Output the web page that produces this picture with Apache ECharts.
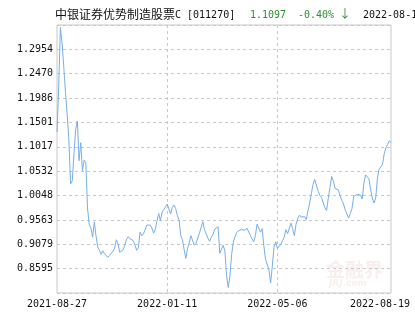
<!DOCTYPE html>
<html>
<head>
<meta charset="utf-8">
<script src="https://cdn.jsdelivr.net/npm/echarts@6/dist/echarts.min.js"></script>
<style>
  html, body { margin: 0; padding: 0; background: #fff; }
  #chart { width: 415px; height: 330px; }
</style>
</head>
<body>
<div id="chart"></div>
<script>
// fund nav, one point per sample
var navs = [
  1.131, 1.22, 1.339, 1.307, 1.26, 1.21, 1.166, 1.115, 1.028, 1.034,
  1.087, 1.136, 1.153, 1.074, 1.110, 1.054, 1.075, 1.070, 0.98, 0.947,
  0.940, 0.922, 0.952, 0.925, 0.903, 0.896, 0.888, 0.895, 0.889, 0.889,
  0.882, 0.886, 0.884, 0.894, 0.900, 0.917, 0.909, 0.892, 0.889, 0.897,
  0.906, 0.918, 0.923, 0.919, 0.917, 0.915, 0.906, 0.896, 0.902, 0.932,
  0.925, 0.929, 0.937, 0.946, 0.943, 0.946, 0.940, 0.930, 0.938, 0.955,
  0.969, 0.955, 0.972, 0.977, 0.975, 0.988, 0.985, 0.968, 0.981, 0.986,
  0.979, 0.965, 0.956, 0.925, 0.917, 0.897, 0.880, 0.900, 0.911, 0.925,
  0.925, 0.906, 0.910, 0.907, 0.930, 0.933, 0.953, 0.937, 0.936, 0.920,
  0.914, 0.922, 0.927, 0.938, 0.940, 0.943, 0.890, 0.892, 0.906, 0.895,
  0.846, 0.822, 0.845, 0.888, 0.912, 0.923, 0.931, 0.935, 0.934, 0.937,
  0.937, 0.936, 0.940, 0.940, 0.926, 0.919, 0.913, 0.925, 0.948, 0.950,
  0.932, 0.939, 0.905, 0.878, 0.880, 0.857, 0.831, 0.865, 0.902, 0.913,
  0.900, 0.900, 0.908, 0.915, 0.922, 0.937, 0.929, 0.929, 0.950, 0.939,
  0.925, 0.948, 0.959, 0.966, 0.962, 0.960, 0.963, 0.957, 0.974, 0.990,
  1.008, 1.027, 1.037, 1.037, 1.014, 1.005, 1.001, 0.991, 0.981, 0.975,
  0.999, 1.021, 1.043, 1.033, 1.019, 1.019, 1.016, 1.004, 0.995, 0.988,
  0.976, 0.968, 0.960, 0.969, 0.979, 1.003, 1.004, 1.007, 1.010, 1.006,
  0.998, 1.029, 1.046, 1.045, 1.038, 1.016, 1.000, 0.990, 1.000, 1.040,
  1.057, 1.059, 1.067, 1.088, 1.100, 1.106, 1.1137, 1.1097
];

var xTickLabels = ['2021-08-27', '2022-01-11', '2022-05-06', '2022-08-19'];
var xTickIndex = [0, 65, 130, 197];

var yTickLabels = ['0.8595', '0.9079', '0.9563', '1.0048', '1.0532',
                   '1.1017', '1.1501', '1.1986', '1.2470', '1.2954'];
var yMin = 0.8111;
var yStep = 0.048433;

var fundName = '中银证券优势制造股票';
var fundCode = 'C [011270]';
var lastNav = '1.1097';
var lastChange = '-0.40%';
var lastArrow = '↓';
var lastDate = '2022-08-19';

var chart = echarts.init(document.getElementById('chart'));

var categories = navs.map(function (v, i) {
  var k = xTickIndex.indexOf(i);
  return k >= 0 ? xTickLabels[k] : String(i);
});

var mono = "'DejaVu Sans Mono', monospace";
var green = '#2f8f2f';

let option = {
  animation: false,
  grid: {
    left: 57,
    right: 24,
    top: 25,
    bottom: 37,
    show: true,
    borderColor: '#c8c8c8',
    borderWidth: 1,
    backgroundColor: 'transparent'
  },
  graphic: [
    { type: 'text', left: 55, top: 8, style: { text: fundName, fill: '#111', font: "12px 'Noto Sans CJK SC'" } },
    { type: 'text', left: 175, top: 10, style: { text: fundCode, fill: '#111', font: '10px ' + mono } },
    { type: 'text', left: 250, top: 10, style: { text: lastNav, fill: green, font: '10px ' + mono } },
    { type: 'text', left: 298, top: 10, style: { text: lastChange, fill: green, font: '10px ' + mono } },
    { type: 'text', left: 339, top: 7, style: { text: lastArrow, fill: green, font: "12px 'Noto Sans CJK SC'" } },
    { type: 'text', left: 363, top: 10, style: { text: lastDate, fill: '#111', font: '10px ' + mono } },
    { type: 'text', left: 326, top: 260, z: -1, style: { text: '金融界', fill: 'rgba(210,90,90,0.11)', font: "bold 19px 'Noto Sans CJK SC'" } },
    { type: 'text', left: 329, top: 279, z: -1, style: { text: 'JRJ.com', fill: 'rgba(210,90,90,0.11)', font: "italic bold 9px 'DejaVu Sans'" } }
  ],
  xAxis: {
    type: 'category',
    boundaryGap: false,
    data: categories,
    axisLine: { show: false },
    axisTick: { show: false },
    axisLabel: {
      interval: function (i) { return xTickIndex.indexOf(i) >= 0; },
      margin: 6,
      color: '#111',
      fontFamily: mono,
      fontSize: 10,
      formatter: function (v) {
        if (v === xTickLabels[xTickLabels.length - 1]) return '{r|' + v + '}';
        return v;
      },
      rich: {
        r: { padding: [0, 22, 0, 0], fontFamily: mono, fontSize: 10, color: '#111' }
      }
    },
    splitLine: {
      show: true,
      interval: function (i) { return i > 0 && i < navs.length - 1 && xTickIndex.indexOf(i) >= 0; },
      lineStyle: { color: '#c8c8c8', type: [3, 3], width: 1 }
    }
  },
  yAxis: {
    type: 'value',
    min: yMin,
    max: yMin + yStep * 11,
    interval: yStep,
    axisLine: { show: false },
    axisTick: { show: false },
    axisLabel: {
      margin: 4,
      color: '#111',
      fontFamily: mono,
      fontSize: 10,
      formatter: function (v) {
        for (var i = 0; i < yTickLabels.length; i++) {
          if (Math.abs(parseFloat(yTickLabels[i]) - v) < 0.01) return yTickLabels[i];
        }
        return '';
      }
    },
    splitLine: {
      show: true,
      lineStyle: { color: '#c8c8c8', type: [3, 3], width: 1 }
    }
  },
  series: [
    {
      type: 'line',
      data: navs,
      showSymbol: false,
      lineStyle: { color: '#74aeea', width: 1 },
      itemStyle: { color: '#74aeea' }
    }
  ]
};

chart.setOption(option);
</script>
</body>
</html>
